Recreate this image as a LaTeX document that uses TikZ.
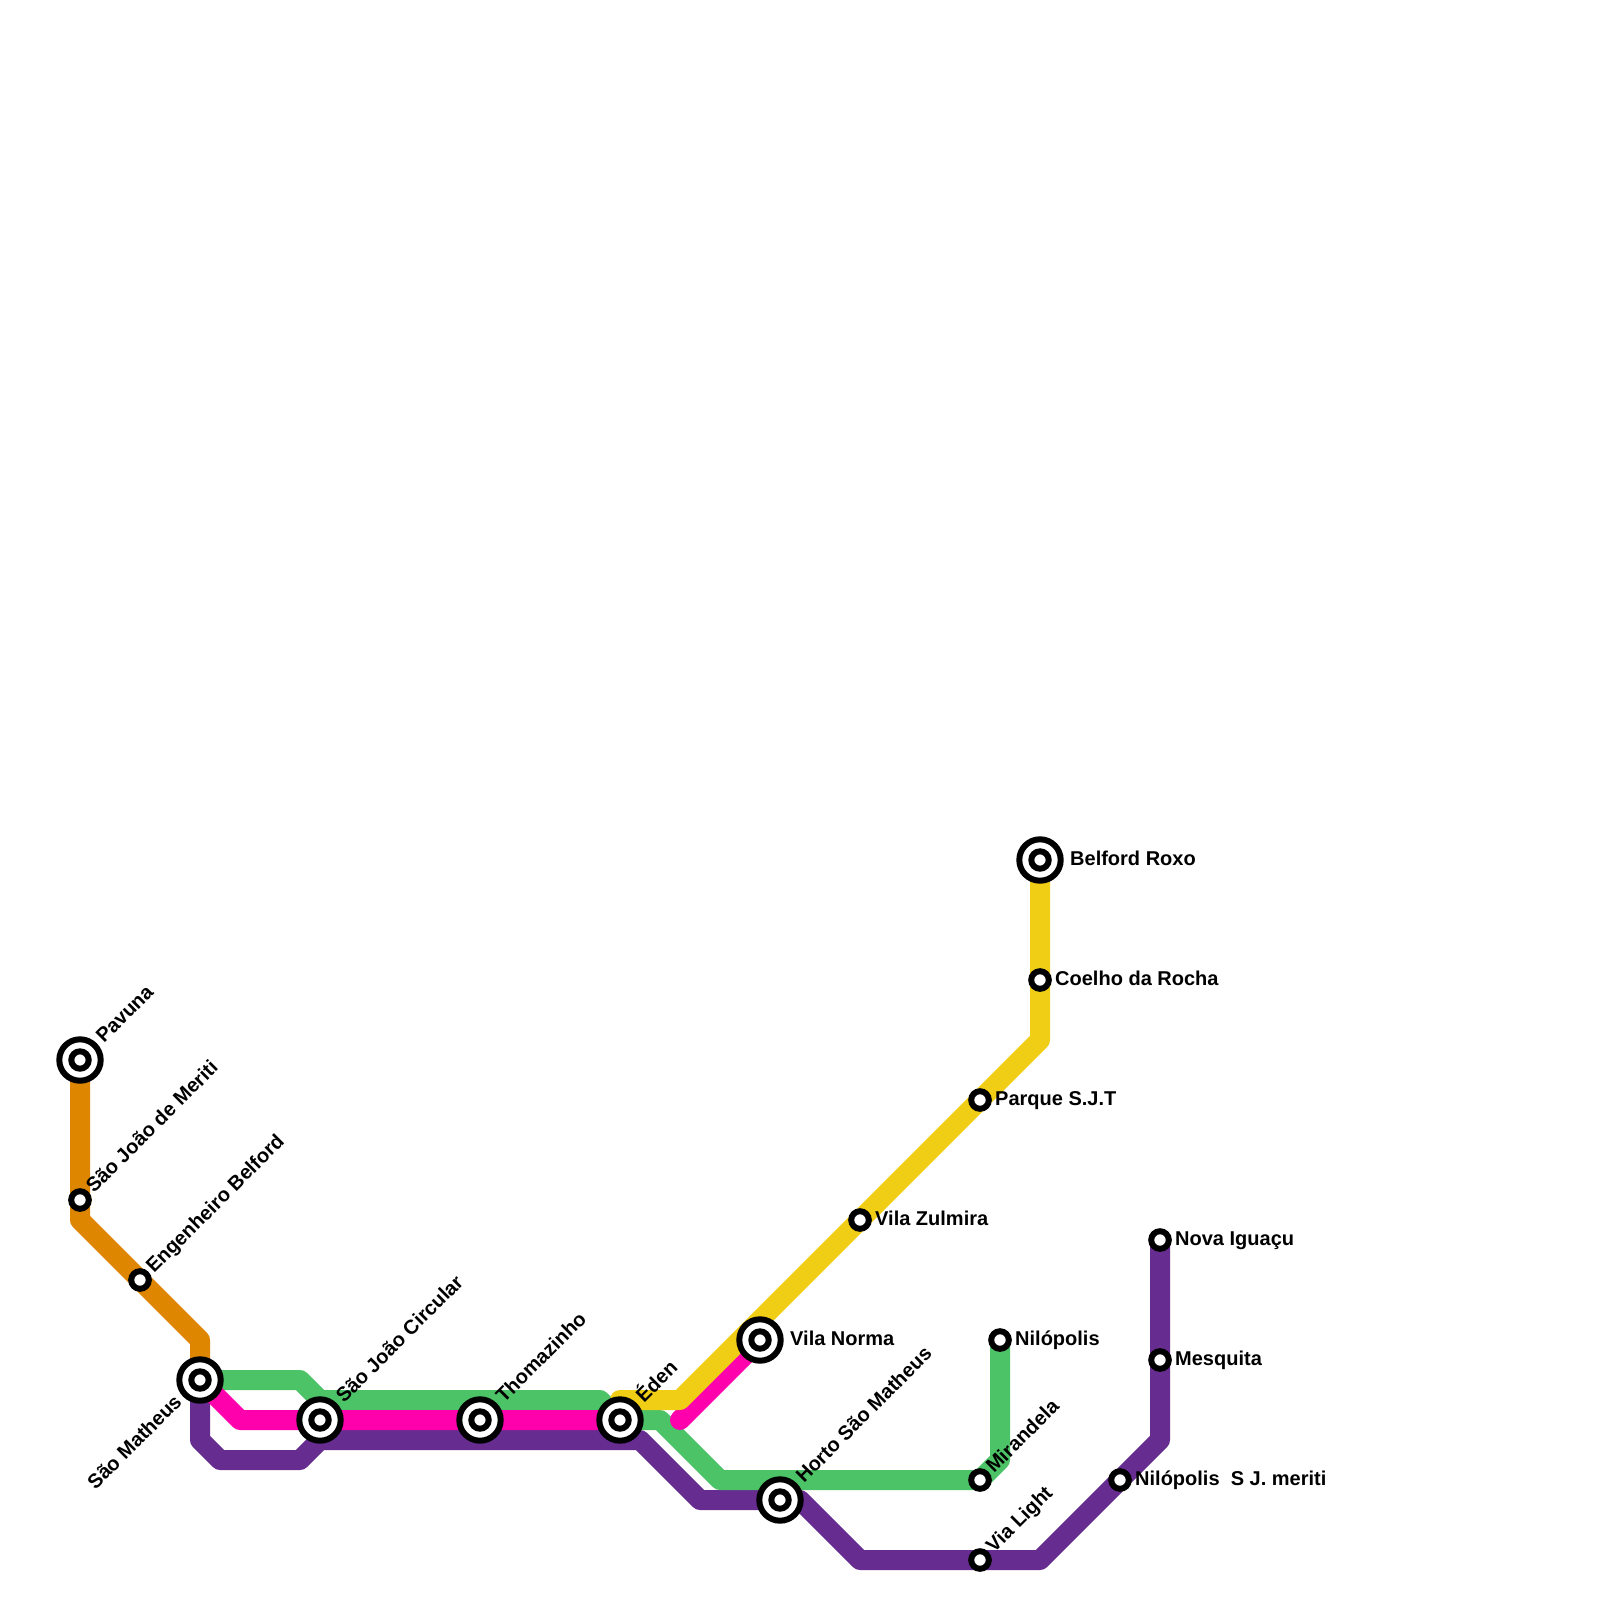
\documentclass[tikz,border=0pt]{standalone}
\usepackage{fontspec}
\setmainfont{Liberation Sans}
\pgfdeclarelayer{lines}
\pgfsetlayers{lines,main}
\definecolor{cOrange}{HTML}{DF8600}
\definecolor{cPurple}{HTML}{662C90}
\definecolor{cGreen}{HTML}{4BC366}
\definecolor{cYellow}{HTML}{F0CE15}
\definecolor{cPink}{HTML}{FF00AD}
\tikzset{
  route/.style={line width=20pt,line join=round,line cap=round},
  bigst/.style={circle,draw=black,fill=white,line width=6pt,minimum size=41.4pt,inner sep=0pt,outer sep=0pt,
    path picture={\draw[line width=6pt,black] (path picture bounding box.center) circle (8.7pt);}},
  smallst/.style={circle,draw=black,fill=white,line width=6pt,minimum size=17.6pt,inner sep=0pt,outer sep=0pt},
  hlabel/.style={font=\fontsize{20}{22}\selectfont\bfseries,anchor=base west,inner sep=0pt,black},
  dlabel/.style={hlabel,rotate=45},
  dlabelend/.style={hlabel,rotate=45,anchor=base east}
}
\begin{document}
\begin{tikzpicture}[x=1pt,y=-1pt]
\useasboundingbox (0,0) rectangle (1600,1600);
% stations
\node[bigst] (pav) at (80,1060) {};
\node[smallst] (sjm) at (80,1200) {};
\node[smallst] (eng) at (140,1280) {};
\node[bigst] (sma) at (200,1380) {};
\node[bigst] (sjc) at (320,1420) {};
\node[bigst] (tho) at (480,1420) {};
\node[bigst] (ede) at (620,1420) {};
\node[bigst] (vno) at (760,1340) {};
\node[bigst] (hor) at (780,1500) {};
\node[bigst] (bel) at (1040,860) {};
\node[smallst] (coe) at (1040,980) {};
\node[smallst] (par) at (980,1100) {};
\node[smallst] (zul) at (860,1220) {};
\node[smallst] (nil) at (1000,1340) {};
\node[smallst] (mir) at (980,1480) {};
\node[smallst] (via) at (980,1560) {};
\node[smallst] (nsj) at (1120,1480) {};
\node[smallst] (mes) at (1160,1360) {};
\node[smallst] (nov) at (1160,1240) {};
% bends
\coordinate (o1) at (80,1220);
\coordinate (o2) at (200,1340);
\coordinate (g1) at (300,1380);
\coordinate (g2) at (320,1400);
\coordinate (g3) at (600,1400);
\coordinate (g4) at (660,1420);
\coordinate (g5) at (720,1480);
\coordinate (g6) at (1000,1460);
\coordinate (k1) at (240,1420);
\coordinate (k2) at (680,1420);
\coordinate (y0) at (620,1400);
\coordinate (y1) at (680,1400);
\coordinate (y2) at (1040,1040);
\coordinate (p1) at (200,1440);
\coordinate (p2) at (220,1460);
\coordinate (p3) at (300,1460);
\coordinate (p4) at (320,1440);
\coordinate (p5) at (640,1440);
\coordinate (p6) at (700,1500);
\coordinate (p7) at (800,1500);
\coordinate (p8) at (860,1560);
\coordinate (p9) at (1040,1560);
\coordinate (p10) at (1160,1440);
% routes
\begin{pgfonlayer}{lines}
\draw[route,cOrange] (pav.center) -- (sjm.center) -- (o1) -- (eng.center) -- (o2) -- (sma.center);
\draw[route,cPurple] (sma.center) -- (p1) -- (p2) -- (p3) -- (p4) -- (p5) -- (p6) -- (hor.center) -- (p7) -- (p8) -- (via.center) -- (p9) -- (nsj.center) -- (p10) -- (mes.center) -- (nov.center);
\draw[route,cGreen] (sma.center) -- (g1) -- (g2) -- (g3) -- (ede.center) -- (g4) -- (g5) -- (mir.center) -- (g6) -- (nil.center);
\draw[route,cPink] (sma.center) -- (k1) -- (sjc.center) -- (tho.center) -- (ede.center);
\draw[route,cPink] (k2) -- (vno.center);
\draw[route,cYellow] (y0) -- (y1) -- (zul.center) -- (par.center) -- (y2) -- (coe.center) -- (bel.center);
\end{pgfonlayer}
% labels
\node[dlabel] (lpav) at (104,1044) {Pavuna};
\node[dlabel] (lsjm) at (94,1194) {São João de Meriti};
\node[dlabel] (leng) at (154,1274) {Engenheiro Belford};
\node[dlabelend] (lsma) at (183,1403) {São Matheus};
\node[dlabel] (lsjc) at (344,1404) {São João Circular};
\node[dlabel] (ltho) at (504,1404) {Thomazinho};
\node[dlabel] (lede) at (644,1404) {Éden};
\node[dlabel] (lhor) at (804,1484) {Horto São Matheus};
\node[dlabel] (lmir) at (994,1474) {Mirandela};
\node[dlabel] (lvia) at (994,1554) {Via Light};
\node[hlabel] (lvno) at (790,1345) {Vila Norma};
\node[hlabel] (lbel) at (1070,865) {Belford Roxo};
\node[hlabel] (lcoe) at (1055,985) {Coelho da Rocha};
\node[hlabel] (lpar) at (995,1105) {Parque S.J.T};
\node[hlabel] (lzul) at (875,1225) {Vila Zulmira};
\node[hlabel] (lnil) at (1015,1345) {Nilópolis};
\node[hlabel] (lnsj) at (1135,1485) {Nilópolis\ \ S J. meriti};
\node[hlabel] (lmes) at (1175,1365) {Mesquita};
\node[hlabel] (lnov) at (1175,1245) {Nova Iguaçu};
\end{tikzpicture}
\end{document}
